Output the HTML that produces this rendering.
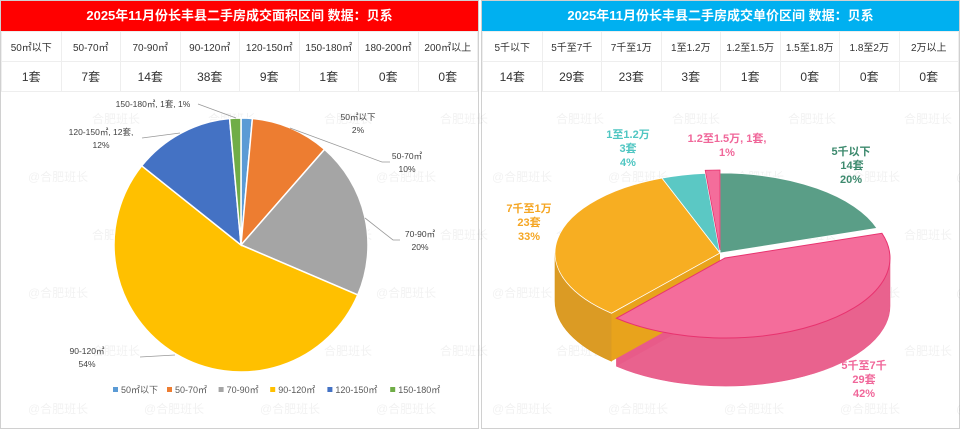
<!DOCTYPE html>
<html><head><meta charset="utf-8">
<style>
html,body{margin:0;padding:0;background:#fff;}
body{width:960px;height:431px;overflow:hidden;position:relative;font-family:"Liberation Sans","Noto Sans CJK SC",sans-serif;}
.panel{position:absolute;top:0;width:479px;height:429px;border:1px solid #d0d0d0;box-sizing:border-box;}
.title{height:30px;line-height:30px;text-align:center;color:#fff;font-size:13px;font-weight:bold;}
table{border-collapse:collapse;width:100%;table-layout:fixed;}
td{border:1px solid #eee;text-align:center;color:#333;height:29px;padding:0;}
tr.h td{font-size:10px;}
tr.c td{font-size:12px;}
.wm{position:absolute;color:#000;opacity:0.05;font-size:12px;white-space:nowrap;}
</style></head>
<body>
<div class="panel" style="left:0">
 <div class="title" style="background:#ff0000">2025年11月份长丰县二手房成交面积区间 数据：贝系</div>
 <table>
  <tr class="h"><td>50㎡以下</td><td>50-70㎡</td><td>70-90㎡</td><td>90-120㎡</td><td>120-150㎡</td><td>150-180㎡</td><td>180-200㎡</td><td>200㎡以上</td></tr>
  <tr class="c"><td>1套</td><td>7套</td><td>14套</td><td>38套</td><td>9套</td><td>1套</td><td>0套</td><td>0套</td></tr>
 </table>
</div>
<div class="panel" style="left:481px">
 <div class="title" style="background:#00b0f0">2025年11月份长丰县二手房成交单价区间 数据：贝系</div>
 <table>
  <tr class="h"><td>5千以下</td><td>5千至7千</td><td>7千至1万</td><td>1至1.2万</td><td>1.2至1.5万</td><td>1.5至1.8万</td><td>1.8至2万</td><td>2万以上</td></tr>
  <tr class="c"><td>14套</td><td>29套</td><td>23套</td><td>3套</td><td>1套</td><td>0套</td><td>0套</td><td>0套</td></tr>
 </table>
</div>
<div id="wms"></div>
<svg id="chart" width="960" height="431" style="position:absolute;left:0;top:0"></svg>
<script>
const areaCats=["50㎡以下","50-70㎡","70-90㎡","90-120㎡","120-150㎡","150-180㎡"];
const areaVals=[1,7,14,38,9,1];
const areaColors=["#5b9bd5","#ed7d31","#a5a5a5","#ffc000","#4472c4","#70ad47"];
const priceCats=["5千以下","5千至7千","7千至1万","1至1.2万","1.2至1.5万"];
const priceVals=[14,29,23,3,1];
const priceColors=["#5a9e87","#f46d9b","#f7ae22","#5bc8c4","#f46d9b"];
const priceSide=["#4a8a74","#e85a88","#d99618","#48aaa6","#e85a88"];

const NS="http://www.w3.org/2000/svg";
const svg=document.getElementById('chart');
function mk(tag,attrs,parent){const e=document.createElementNS(NS,tag);for(const k in attrs)e.setAttribute(k,attrs[k]);(parent||svg).appendChild(e);return e;}
function txt(x,y,s,fill,size,bold,anchor){const t=mk('text',{x:x,y:y,fill:fill,'font-size':size,'text-anchor':anchor||'middle','font-weight':bold?'bold':'normal','font-family':'"Liberation Sans","Noto Sans CJK SC",sans-serif'});t.textContent=s;return t;}

// watermarks
const wmBox=document.getElementById('wms');
const wmRows=[[110,false],[168,true],[226,false],[284,true],[342,false],[400,true]];
wmRows.forEach(([y,at])=>{
 for(let c=0;c<9;c++){
  const d=document.createElement('div');d.className='wm';
  d.style.left=((at?28:92)+c*116)+'px';d.style.top=y+'px';
  d.textContent=at?'@合肥班长':'合肥班长';
  
  
  wmBox.appendChild(d);
 }
});

// ---- left 2D pie ----
const cx=241,cy=245,R=127;
const tot=areaVals.reduce((a,b)=>a+b,0);
let a0=0;
function pt(ang,r){return [cx+r*Math.sin(ang),cy-r*Math.cos(ang)];}
areaVals.forEach((v,i)=>{
 const a1=a0+v/tot*2*Math.PI;
 const p0=pt(a0,R),p1=pt(a1,R);
 const large=(a1-a0)>Math.PI?1:0;
 const p=mk('path',{d:`M${cx},${cy}L${p0[0]},${p0[1]}A${R},${R} 0 ${large} 1 ${p1[0]},${p1[1]}Z`,fill:areaColors[i],stroke:'#fff','stroke-width':1.5});
 
 
 a0=a1;
});
const lc='#999';
mk('polyline',{points:'198,104 236,118',fill:'none',stroke:lc,'stroke-width':0.8});
mk('polyline',{points:'142,138 180,133',fill:'none',stroke:lc,'stroke-width':0.8});
mk('polyline',{points:'290,128 382,162 390,162',fill:'none',stroke:lc,'stroke-width':0.8});
mk('polyline',{points:'365,218 393,240 400,240',fill:'none',stroke:lc,'stroke-width':0.8});
mk('polyline',{points:'140,357 175,355',fill:'none',stroke:lc,'stroke-width':0.8});
const g='#404040';
txt(153,107,"150-180㎡, 1套, 1%",g,8.5);
txt(101,135,"120-150㎡, 12套,",g,8.5);txt(101,148,"12%",g,8.5);
txt(358,120,"50㎡以下",g,8.5);txt(358,133,"2%",g,8.5);
txt(407,159,"50-70㎡",g,8.5);txt(407,172,"10%",g,8.5);
txt(420,237,"70-90㎡",g,8.5);txt(420,250,"20%",g,8.5);
txt(87,354,"90-120㎡",g,8.5);txt(87,367,"54%",g,8.5);
let lx=113;
areaCats.forEach((c,i)=>{
 const r=mk('rect',{x:lx,y:387,width:5,height:5,fill:areaColors[i]});
 
 
 const t=txt(lx+8,393,c,'#595959',9,false,'start');
 
 
 lx+=8+c.length*5.6+10+(c.indexOf('以')>=0?8:0);
});

// ---- right 3D pie ----
const X=720,Y=253,RX=165,RY=80,D=48;
const ptot=priceVals.reduce((a,b)=>a+b,0);
const offs=[[0,0],[5,5],[0,0],[0,0],[0,-3]];
function ep(ang,dx,dy,z){return [X+dx+RX*Math.sin(ang),Y+dy-RY*Math.cos(ang)+z];}
const slices=[];let b0=0;
priceVals.forEach((v,i)=>{const b1=b0+v/ptot*2*Math.PI;slices.push([b0,b1]);b0=b1;});
slices.forEach(([s,e],i)=>{
 const [dx,dy]=offs[i];
 const lo=Math.max(s,Math.PI/2),hi=Math.min(e,1.5*Math.PI);
 if(hi>lo){
  const p0=ep(lo,dx,dy,0),p1=ep(hi,dx,dy,0),q1=ep(hi,dx,dy,D),q0=ep(lo,dx,dy,D);
  const p=mk('path',{d:`M${p0}A${RX},${RY} 0 0 1 ${p1}L${q1}A${RX},${RY} 0 0 0 ${q0}Z`,fill:priceSide[i],stroke:priceSide[i],'stroke-width':0.6,'fill-opacity':0.95});
  
  
 }
 if(i===1){
  const c0=[X+dx,Y+dy],pe=ep(e,dx,dy,0);
  const p=mk('path',{d:`M${c0}L${pe}L${pe[0]},${pe[1]+D}L${c0[0]},${c0[1]+D}Z`,fill:priceSide[i],'fill-opacity':0.85});
  
  
 }
 if(i===2){
  const c0=[X,Y],ps=ep(s,0,0,0);
  const p=mk('path',{d:`M${c0}L${ps}L${ps[0]},${ps[1]+D}L${c0[0]},${c0[1]+D}Z`,fill:'#e8a31c'});
  
  
 }
});
slices.forEach(([s,e],i)=>{
 const [dx,dy]=offs[i];
 const p0=ep(s,dx,dy,0),p1=ep(e,dx,dy,0);
 const large=(e-s)>Math.PI?1:0;
 const p=mk('path',{d:`M${X+dx},${Y+dy}L${p0}A${RX},${RY} 0 ${large} 1 ${p1}Z`,fill:priceColors[i],stroke:i===1||i===4?'#e8336f':'#fff','stroke-width':i===1?1:0.8});
 
 
});
txt(851,155,"5千以下","#3d8a6e",11,true);txt(852,169,"14套","#3d8a6e",11,true);txt(851,183,"20%","#3d8a6e",11,true);
txt(628,138,"1至1.2万","#4fc6c2",11,true);txt(628,152,"3套","#4fc6c2",11,true);txt(628,166,"4%","#4fc6c2",11,true);
txt(727,142,"1.2至1.5万, 1套,","#f0679a",11,true);txt(727,156,"1%","#f0679a",11,true);
txt(529,212,"7千至1万","#f5a623",11,true);txt(529,226,"23套","#f5a623",11,true);txt(529,240,"33%","#f5a623",11,true);
txt(864,369,"5千至7千","#f0679a",11,true);txt(864,383,"29套","#f0679a",11,true);txt(864,397,"42%","#f0679a",11,true);
</script>
</body></html>
